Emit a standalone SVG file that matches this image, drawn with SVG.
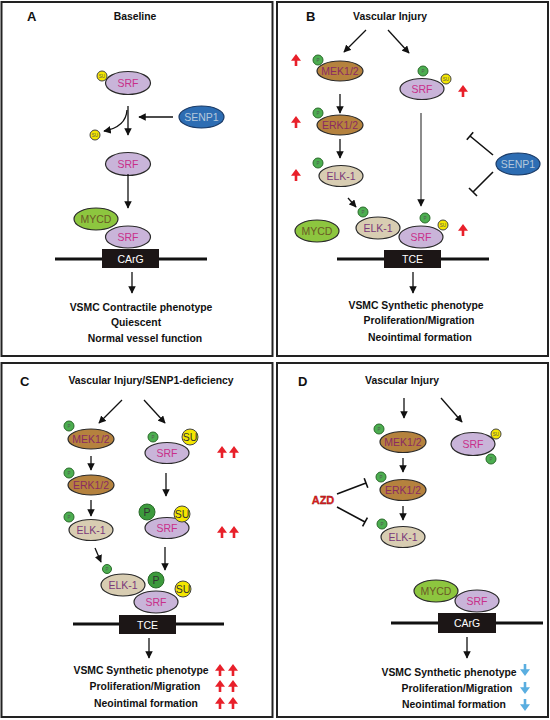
<svg xmlns="http://www.w3.org/2000/svg" width="550" height="720" viewBox="0 0 550 720">
<defs>
<style>
.panel{fill:#fff;stroke:#222;stroke-width:2}
.lbl{font-family:"Liberation Sans",Arial,sans-serif;font-weight:bold;font-size:13px;fill:#111}
.ttl{font-family:"Liberation Sans",Arial,sans-serif;font-weight:bold;font-size:10.4px;fill:#111;text-anchor:middle;dominant-baseline:central}
.t{font-family:"Liberation Sans",Arial,sans-serif;font-size:10.5px;text-anchor:middle;dominant-baseline:central}
.srf{fill:#c9b4d9;stroke:#2a2a2a;stroke-width:1.2}
.srf-t{fill:#c8308a}
.kin{fill:#b5823e;stroke:#2a2a2a;stroke-width:1.2}
.kin-t{fill:#8a2b62}
.elk{fill:#d8cdb2;stroke:#2a2a2a;stroke-width:1.2}
.elk-t{fill:#7a3a7a}
.mycd{fill:#8dc63f;stroke:#2a2a2a;stroke-width:1.2}
.mycd-t{fill:#6a5a26}
.senp{fill:#2d6db3;stroke:#1a3a66;stroke-width:1.2}
.senp-t{fill:#b4c8dc}
.p{fill:#4cae50;stroke:#2a6a2a;stroke-width:1}
.su{fill:#f3e600;stroke:#444;stroke-width:1}
.tiny{font-family:"Liberation Sans",Arial,sans-serif;font-size:4.5px;text-anchor:middle;dominant-baseline:central;fill:#555}
.big{font-family:"Liberation Sans",Arial,sans-serif;font-size:10.5px;text-anchor:middle;dominant-baseline:central;fill:#333}
.dna{stroke:#111;stroke-width:3}
.box{fill:#1c1616}
.box-t{font-family:"Liberation Sans",Arial,sans-serif;font-size:10.5px;text-anchor:middle;dominant-baseline:central;fill:#fff}
.arr{stroke:#111;stroke-width:1.3;fill:none;marker-end:url(#ah)}
.garr{stroke:#666;stroke-width:1.5;fill:none;marker-end:url(#ah)}
.inh{stroke:#111;stroke-width:1.6;fill:none}
</style>
<marker id="ah" viewBox="0 0 10 10" refX="9" refY="5" markerWidth="8" markerHeight="7.5" markerUnits="userSpaceOnUse" orient="auto"><path d="M0,0 L10,5 L0,10 Z" fill="#111"/></marker>
<path id="up" d="M0,-6 L5,0.8 L1.3,0.8 L1.3,6 L-1.3,6 L-1.3,0.8 L-5,0.8 Z" fill="#e8202a"/>
<path id="down" d="M0,6 L5,-0.8 L1.3,-0.8 L1.3,-6 L-1.3,-6 L-1.3,-0.8 L-5,-0.8 Z" fill="#5aaee0"/>
</defs>
<rect width="550" height="720" fill="#fff"/>

<!-- Panel frames -->
<rect class="panel" x="1.5" y="2" width="271" height="354"/>
<rect class="panel" x="277" y="2" width="271" height="354"/>
<rect class="panel" x="1.5" y="363" width="271" height="354"/>
<rect class="panel" x="277" y="363" width="271" height="354"/>

<!-- ================= Panel A ================= -->
<text class="lbl" x="27" y="21">A</text>
<text class="ttl" x="135" y="16">Baseline</text>

<g id="A-srf1"><ellipse class="srf" cx="128" cy="83" rx="22.5" ry="11.5"/><text class="t srf-t" x="128" y="83">SRF</text></g>
<g id="A-su1"><circle class="su" cx="102" cy="76" r="5"/><text class="tiny" x="102" y="76">SU</text></g>
<g id="A-su2"><circle class="su" cx="95" cy="135" r="5"/><text class="tiny" x="95" y="135">SU</text></g>
<g id="A-senp1"><ellipse class="senp" cx="201.5" cy="117" rx="22.5" ry="11"/><text class="t senp-t" x="201.5" y="117">SENP1</text></g>
<g id="A-srf2"><ellipse class="srf" cx="128" cy="164" rx="22.5" ry="11.5"/><text class="t srf-t" x="128" y="164">SRF</text></g>
<g id="A-mycd"><ellipse class="mycd" cx="96" cy="219" rx="22" ry="11"/><text class="t mycd-t" x="96" y="219">MYCD</text></g>
<g id="A-srf3"><ellipse class="srf" cx="128" cy="237" rx="22.5" ry="11"/><text class="t srf-t" x="128" y="237">SRF</text></g>
<g id="A-dna"><line class="dna" x1="55" y1="259" x2="207" y2="259"/><rect class="box" x="102" y="249" width="57" height="19"/><text class="box-t" x="130.5" y="258.5">CArG</text></g>

<g id="A-connectors">
<line class="arr" x1="128" y1="106" x2="128" y2="135"/>
<path class="arr" d="M127,110 Q126,127 104,131"/>
<line class="arr" x1="173" y1="117" x2="139" y2="117"/>
<line class="arr" x1="128" y1="174" x2="128" y2="208"/>
<line class="arr" x1="132" y1="272" x2="132" y2="293"/>
</g>
<text class="ttl" x="141" y="307">VSMC Contractile phenotype</text>
<text class="ttl" x="136" y="322">Quiescent</text>
<text class="ttl" x="145" y="338">Normal vessel function</text>

<!-- ================= Panel B ================= -->
<text class="lbl" x="306" y="21">B</text>
<text class="ttl" x="390" y="16">Vascular Injury</text>

<g id="B-mek"><ellipse class="kin" cx="340" cy="71" rx="23" ry="10"/><text class="t kin-t" x="340" y="71">MEK1/2</text><circle class="p" cx="318" cy="60" r="5"/><text class="tiny" x="318" y="60">P</text></g>
<g id="B-erk"><ellipse class="kin" cx="340" cy="125" rx="23" ry="10"/><text class="t kin-t" x="340" y="125">ERK1/2</text><circle class="p" cx="318" cy="113" r="5"/><text class="tiny" x="318" y="113">P</text></g>
<g id="B-elk"><ellipse class="elk" cx="341" cy="176" rx="22" ry="10.5"/><text class="t elk-t" x="341" y="176">ELK-1</text><circle class="p" cx="318" cy="163" r="5"/><text class="tiny" x="318" y="163">P</text></g>
<g id="B-srf"><ellipse class="srf" cx="422" cy="89" rx="22" ry="10.5"/><text class="t srf-t" x="422" y="89">SRF</text><circle class="p" cx="423" cy="71" r="5"/><text class="tiny" x="423" y="71">P</text><circle class="su" cx="446" cy="79" r="5"/><text class="tiny" x="446" y="79">SU</text></g>
<g id="B-senp1"><ellipse class="senp" cx="518" cy="164" rx="22" ry="11"/><text class="t senp-t" x="518" y="164">SENP1</text></g>
<g id="B-mycd"><ellipse class="mycd" cx="317" cy="231" rx="22" ry="11"/><text class="t mycd-t" x="317" y="231">MYCD</text></g>
<g id="B-elk2"><ellipse class="elk" cx="378" cy="228" rx="22" ry="11"/><text class="t elk-t" x="378" y="228">ELK-1</text><circle class="p" cx="363" cy="212" r="5"/><text class="tiny" x="363" y="212">P</text></g>
<g id="B-srf2"><ellipse class="srf" cx="421" cy="237" rx="22" ry="11"/><text class="t srf-t" x="421" y="237">SRF</text><circle class="p" cx="425" cy="218" r="5"/><text class="tiny" x="425" y="218">P</text><circle class="su" cx="443" cy="225" r="5"/><text class="tiny" x="443" y="225">SU</text></g>
<g id="B-dna"><line class="dna" x1="337" y1="259" x2="489" y2="259"/><rect class="box" x="384" y="250" width="57" height="18"/><text class="box-t" x="412.5" y="259">TCE</text></g>
<use href="#up" x="296" y="60"/><use href="#up" x="296" y="122"/><use href="#up" x="296" y="175"/>
<use href="#up" x="463" y="91"/><use href="#up" x="463" y="230"/>

<g id="B-connectors">
<line class="arr" x1="366" y1="30" x2="344" y2="52"/>
<line class="arr" x1="388" y1="30" x2="409" y2="53"/>
<line class="arr" x1="340" y1="94" x2="340" y2="113"/>
<line class="arr" x1="340" y1="139" x2="340" y2="158"/>
<line class="arr" x1="348" y1="198" x2="356" y2="207"/>
<line class="garr" x1="421" y1="113" x2="421" y2="206"/>
<path class="inh" d="M493,155 L470,136 M473.2,132.2 L466.8,139.8"/>
<path class="inh" d="M493,172 L473,192 M477,196 L469,188"/>
<line class="arr" x1="413" y1="272" x2="413" y2="293"/>
</g>
<text class="ttl" x="416" y="305">VSMC Synthetic phenotype</text>
<text class="ttl" x="419" y="320">Proliferation/Migration</text>
<text class="ttl" x="420" y="337">Neointimal formation</text>

<!-- ================= Panel C ================= -->
<text class="lbl" x="20" y="386">C</text>
<text class="ttl" x="151" y="380">Vascular Injury/SENP1-deficiency</text>

<g id="C-mek"><ellipse class="kin" cx="91" cy="439" rx="23" ry="10"/><text class="t kin-t" x="91" y="439">MEK1/2</text><circle class="p" cx="69" cy="426" r="5"/><text class="tiny" x="69" y="426">P</text></g>
<g id="C-erk"><ellipse class="kin" cx="91" cy="485" rx="23" ry="10"/><text class="t kin-t" x="91" y="485">ERK1/2</text><circle class="p" cx="69" cy="473" r="5"/><text class="tiny" x="69" y="473">P</text></g>
<g id="C-elk"><ellipse class="elk" cx="91" cy="530" rx="22" ry="10.5"/><text class="t elk-t" x="91" y="530">ELK-1</text><circle class="p" cx="69" cy="517" r="5"/><text class="tiny" x="69" y="517">P</text></g>
<g id="C-srf"><ellipse class="srf" cx="167" cy="453" rx="22" ry="10.5"/><text class="t srf-t" x="167" y="453">SRF</text><circle class="p" cx="153" cy="437" r="5"/><text class="tiny" x="153" y="437">P</text><circle class="su" cx="190" cy="437" r="8"/><text class="big" x="190" y="437">SU</text></g>
<g id="C-srf2"><ellipse class="srf" cx="167" cy="528" rx="22" ry="10.5"/><text class="t srf-t" x="167" y="528">SRF</text><circle class="p" cx="147" cy="512" r="8" style="fill:#3c9a3c"/><text class="big" x="147" y="512">P</text><circle class="su" cx="182" cy="514" r="8"/><text class="big" x="182" y="514">SU</text></g>
<g id="C-elk2"><ellipse class="elk" cx="123" cy="585" rx="22" ry="11"/><text class="t elk-t" x="123" y="585">ELK-1</text><circle class="p" cx="107" cy="569" r="4.5"/><text class="tiny" x="107" y="569">P</text></g>
<g id="C-srf3"><ellipse class="srf" cx="156" cy="602" rx="22" ry="11"/><text class="t srf-t" x="156" y="602">SRF</text><circle class="p" cx="156" cy="580" r="8" style="fill:#3c9a3c"/><text class="big" x="156" y="580">P</text><circle class="su" cx="183" cy="589" r="8"/><text class="big" x="183" y="589">SU</text></g>
<g id="C-dna"><line class="dna" x1="73" y1="624" x2="224" y2="624"/><rect class="box" x="119" y="615" width="57" height="19"/><text class="box-t" x="147.5" y="624.5">TCE</text></g>
<use href="#up" x="222" y="452"/><use href="#up" x="234" y="452"/>
<use href="#up" x="222" y="532"/><use href="#up" x="234" y="532"/>
<use href="#up" x="220" y="670"/><use href="#up" x="233" y="670"/>
<use href="#up" x="220" y="686"/><use href="#up" x="233" y="686"/>
<use href="#up" x="220" y="703"/><use href="#up" x="233" y="703"/>

<g id="C-connectors">
<line class="arr" x1="122" y1="400" x2="99" y2="423"/>
<line class="arr" x1="144" y1="400" x2="165" y2="423"/>
<line class="arr" x1="91" y1="456" x2="91" y2="470"/>
<line class="arr" x1="91" y1="500" x2="91" y2="516"/>
<line class="arr" x1="166" y1="473" x2="166" y2="496"/>
<line class="arr" x1="95" y1="548" x2="101" y2="562"/>
<line class="arr" x1="165" y1="547" x2="165" y2="570"/>
<line class="arr" x1="149" y1="638" x2="149" y2="658"/>
</g>
<text class="ttl" x="141" y="670">VSMC Synthetic phenotype</text>
<text class="ttl" x="145" y="686">Proliferation/Migration</text>
<text class="ttl" x="146" y="703">Neointimal formation</text>

<!-- ================= Panel D ================= -->
<text class="lbl" x="298" y="386">D</text>
<text class="ttl" x="402" y="380">Vascular Injury</text>

<g id="D-mek"><ellipse class="kin" cx="403" cy="442" rx="23" ry="10.5"/><text class="t kin-t" x="403" y="442">MEK1/2</text><circle class="p" cx="379" cy="429" r="5"/><text class="tiny" x="379" y="429">P</text></g>
<g id="D-srf"><ellipse class="srf" cx="473" cy="444" rx="22" ry="11.5"/><text class="t srf-t" x="473" y="444">SRF</text><circle class="su" cx="496" cy="434" r="5"/><text class="tiny" x="496" y="434">SU</text><circle class="p" cx="491" cy="459" r="5"/><text class="tiny" x="491" y="459">P</text></g>
<g id="D-erk"><ellipse class="kin" cx="403" cy="490" rx="23" ry="10.5"/><text class="t kin-t" x="403" y="490">ERK1/2</text><circle class="p" cx="381" cy="477" r="5"/><text class="tiny" x="381" y="477">P</text></g>
<g id="D-elk"><ellipse class="elk" cx="403" cy="537" rx="22" ry="10.5"/><text class="t elk-t" x="403" y="537">ELK-1</text><circle class="p" cx="382" cy="524" r="5"/><text class="tiny" x="382" y="524">P</text></g>
<g id="D-azd"><text x="323" y="500" style="font-family:'Liberation Sans',Arial,sans-serif;font-weight:bold;font-size:11px;fill:#e82020;stroke:#7a1010;stroke-width:0.3;text-anchor:middle;dominant-baseline:central">AZD</text></g>
<g id="D-mycd"><ellipse class="mycd" cx="436" cy="591" rx="22" ry="11"/><text class="t mycd-t" x="436" y="591">MYCD</text></g>
<g id="D-srf2"><ellipse class="srf" cx="477" cy="601" rx="22" ry="11"/><text class="t srf-t" x="477" y="601">SRF</text></g>
<g id="D-dna"><line class="dna" x1="391" y1="623" x2="543" y2="623"/><rect class="box" x="438" y="613" width="58" height="20"/><text class="box-t" x="467" y="623">CArG</text></g>
<use href="#down" x="525" y="670"/><use href="#down" x="525" y="688"/><use href="#down" x="525" y="705"/>

<g id="D-connectors">
<line class="arr" x1="404" y1="398" x2="404" y2="418"/>
<line class="arr" x1="441" y1="398" x2="462" y2="422"/>
<line class="arr" x1="403" y1="458" x2="403" y2="472"/>
<line class="arr" x1="403" y1="506" x2="403" y2="520"/>
<path class="inh" d="M337,494 L366,483 M367.8,487.7 L364.2,478.3"/>
<path class="inh" d="M337,507 L365,522 M362.6,526.4 L367.4,517.6"/>
<line class="arr" x1="467" y1="637" x2="467" y2="658"/>
</g>
<text class="ttl" x="449" y="672">VSMC Synthetic phenotype</text>
<text class="ttl" x="457" y="688">Proliferation/Migration</text>
<text class="ttl" x="454" y="704">Neointimal formation</text>
</svg>
